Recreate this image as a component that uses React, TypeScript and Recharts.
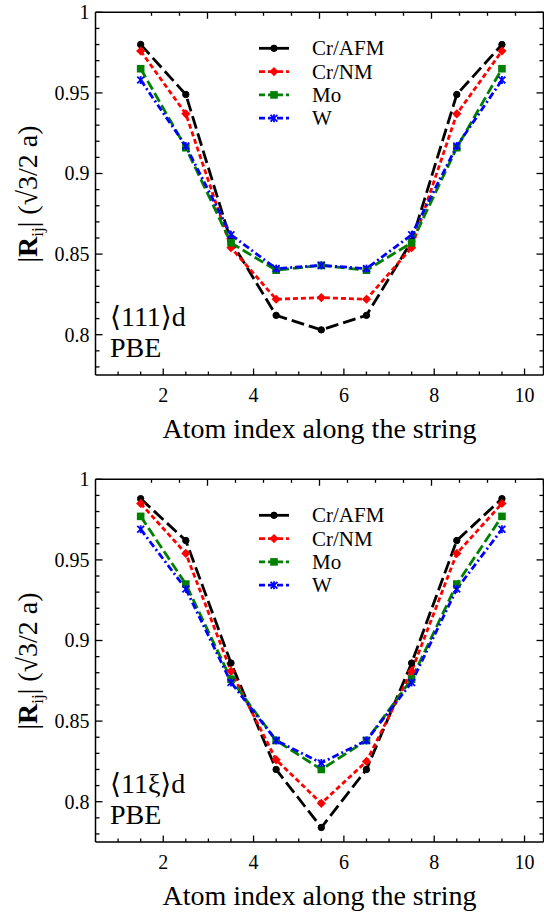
import React from 'react';
import { LineChart, Line, XAxis, YAxis, Legend } from 'recharts';

// ---------- data ----------
const atomIndex = [1.5, 2.5, 3.5, 4.5, 5.5, 6.5, 7.5, 8.5, 9.5];

// panel 1: <111>d
const p1CrAFM = [0.98, 0.949, 0.858, 0.812, 0.803, 0.812, 0.858, 0.949, 0.98];
const p1CrNM = [0.976, 0.937, 0.854, 0.822, 0.823, 0.822, 0.854, 0.937, 0.976];
const p1Mo = [0.965, 0.916, 0.857, 0.84, 0.843, 0.84, 0.857, 0.916, 0.965];
const p1W = [0.958, 0.917, 0.862, 0.841, 0.843, 0.841, 0.862, 0.917, 0.958];

// panel 2: <11xi>d
const p2CrAFM = [0.988, 0.962, 0.886, 0.82, 0.784, 0.82, 0.886, 0.962, 0.988];
const p2CrNM = [0.985, 0.954, 0.881, 0.826, 0.799, 0.825, 0.881, 0.954, 0.985];
const p2Mo = [0.977, 0.935, 0.876, 0.838, 0.82, 0.838, 0.876, 0.935, 0.977];
const p2W = [0.969, 0.932, 0.874, 0.838, 0.824, 0.838, 0.874, 0.932, 0.969];

const seriesNames = ['Cr/AFM', 'Cr/NM', 'Mo', 'W'];

const xTicks = [1, 1.5, 2, 2.5, 3, 3.5, 4, 4.5, 5, 5.5, 6, 6.5, 7, 7.5, 8, 8.5, 9, 9.5, 10];
const xMajorTicks = [2, 4, 6, 8, 10];
const xMajorLabels = ['2', '4', '6', '8', '10'];

const yTicks = [0.78, 0.79, 0.8, 0.81, 0.82, 0.83, 0.84, 0.85, 0.86, 0.87, 0.88, 0.89, 0.9, 0.91, 0.92, 0.93, 0.94, 0.95, 0.96, 0.97, 0.98, 0.99, 1];
const yMajorTicks = [0.8, 0.85, 0.9, 0.95, 1];
const yMajorLabels = ['0.8', '0.85', '0.9', '0.95', '1'];

const X_DOMAIN: [number, number] = [0.5, 10.42];
const Y_DOMAIN: [number, number] = [0.775, 1];

const xTitle = 'Atom index along the string';

// ---------- styles ----------
const FONT = 'Liberation Serif, Tinos, Times New Roman, DejaVu Serif, serif';
const TXT = { fontFamily: FONT } as React.CSSProperties;
const STYLES = [
  { key: 'CrAFM', color: '#000000', dash: '13 5', marker: 'circle' },
  { key: 'CrNM', color: '#ff0000', dash: '5 3', marker: 'diamond' },
  { key: 'Mo', color: '#008000', dash: '10 4', marker: 'square' },
  { key: 'W', color: '#0000ff', dash: '7 3 2 3', marker: 'star' },
];

const CHART_W = 560;
const CHART_H = 467;
const LEFT_W = 95.5;
const RIGHT_W = CHART_W - 543.5;
const TOP_H = 12.3;
const BOTTOM_H = CHART_H - 375;

const near = (a: number, b: number) => Math.abs(a - b) < 1e-6;
const idxIn = (arr: number[], v: number) => arr.findIndex((m) => near(m, v));

function Marker({ cx, cy, kind, color }: { cx: number; cy: number; kind: string; color: string }) {
  if (cx == null || cy == null) return null;
  if (kind === 'circle') return <circle cx={cx} cy={cy} r={3.2} fill={color} stroke={color} />;
  if (kind === 'diamond') {
    const s = 4.6;
    return <polygon points={`${cx},${cy - s} ${cx + s},${cy} ${cx},${cy + s} ${cx - s},${cy}`} fill={color} />;
  }
  if (kind === 'square') {
    const s = 3.8;
    return <rect x={cx - s} y={cy - s} width={2 * s} height={2 * s} fill={color} />;
  }
  const s = 3.4;
  return (
    <g stroke={color} strokeWidth={1.8}>
      <line x1={cx - s} y1={cy - s} x2={cx + s} y2={cy + s} />
      <line x1={cx - s} y1={cy + s} x2={cx + s} y2={cy - s} />
      <line x1={cx} y1={cy - s - 0.6} x2={cx} y2={cy + s + 0.6} />
    </g>
  );
}

const BottomTick = (props: any) => {
  const { x, y, payload } = props;
  const i = idxIn(xMajorTicks, payload.value);
  const major = i >= 0;
  return (
    <g>
      <line x1={x} x2={x} y1={y} y2={y - (major ? 6.5 : 3.5)} stroke="#000" strokeWidth={1.3} />
      {major && (
        <text x={x} y={y + 27} textAnchor="middle" fontSize={20} style={TXT} fill="#000">
          {xMajorLabels[i]}
        </text>
      )}
    </g>
  );
};

const TopTick = (props: any) => {
  const { x, y, payload } = props;
  const major = idxIn(xMajorTicks, payload.value) >= 0;
  return <line x1={x} x2={x} y1={y} y2={y + (major ? 6.5 : 3.5)} stroke="#000" strokeWidth={1.3} />;
};

const LeftTick = (props: any) => {
  const { x, y, payload } = props;
  const i = idxIn(yMajorTicks, payload.value);
  const major = i >= 0;
  return (
    <g>
      <line x1={x} x2={x + (major ? 7 : 4)} y1={y} y2={y} stroke="#000" strokeWidth={1.3} />
      {major && (
        <text x={x - 6} y={y + 6.8} textAnchor="end" fontSize={20} style={TXT} fill="#000">
          {yMajorLabels[i]}
        </text>
      )}
    </g>
  );
};

const RightTick = (props: any) => {
  const { x, y, payload } = props;
  const major = idxIn(yMajorTicks, payload.value) >= 0;
  return <line x1={x} x2={x - (major ? 7 : 4)} y1={y} y2={y} stroke="#000" strokeWidth={1.3} />;
};

const LegendBox = () => (
  <svg width={150} height={100} style={{ overflow: 'visible' }}>
    {STYLES.map((s, i) => {
      const cy = 12.3 + i * 23.3;
      return (
        <g key={s.key}>
          <line x1={0} x2={30} y1={cy} y2={cy} stroke={s.color} strokeWidth={2.8} strokeDasharray={i === 0 ? undefined : '6 3'} />
          <Marker cx={15} cy={cy} kind={s.marker} color={s.color} />
          <text x={53} y={cy + 7} fontSize={21} style={TXT} fill="#000">
            {seriesNames[i]}
          </text>
        </g>
      );
    })}
  </svg>
);

const YTitle = () => (
  <text transform="translate(36.5, 194) rotate(-90)" textAnchor="middle" fontSize={28} style={TXT} fill="#000">
    <tspan>|</tspan>
    <tspan fontWeight="bold">R</tspan>
    <tspan fontSize={17} dy={6}>ij</tspan>
    <tspan dy={-6}>| (√3/2 a)</tspan>
  </text>
);

const XTitle = (props: any) => {
  const vb = props.viewBox || {};
  const cx = (vb.x ?? LEFT_W) + (vb.width ?? 448) / 2;
  const y = (vb.y ?? 375) + 63;
  return (
    <text x={cx} y={y} textAnchor="middle" fontSize={28} style={TXT} fill="#000">
      {xTitle}
    </text>
  );
};

function Panel({ series, tag }: { series: number[][]; tag: string }) {
  const data = atomIndex.map((x, i) => ({
    x,
    CrAFM: series[0][i],
    CrNM: series[1][i],
    Mo: series[2][i],
    W: series[3][i],
  }));
  return (
    <div style={{ position: 'relative', width: CHART_W, height: CHART_H, fontFamily: FONT }}>
      <LineChart width={CHART_W} height={CHART_H} data={data} margin={{ top: 0, right: 0, bottom: 0, left: 0 }}>
        <XAxis
          dataKey="x"
          type="number"
          domain={X_DOMAIN}
          allowDataOverflow
          ticks={xTicks}
          interval={0}
          tickSize={0}
          tickMargin={0}
          tick={BottomTick}
          height={BOTTOM_H}
          axisLine={{ stroke: '#000', strokeWidth: 1.5 }}
          label={<XTitle />}
        />
        <XAxis
          xAxisId="top"
          orientation="top"
          type="number"
          domain={X_DOMAIN}
          allowDataOverflow
          ticks={xTicks}
          interval={0}
          tickSize={0}
          tickMargin={0}
          tick={TopTick}
          height={TOP_H}
          axisLine={{ stroke: '#000', strokeWidth: 1.5 }}
        />
        <YAxis
          type="number"
          domain={Y_DOMAIN}
          allowDataOverflow
          ticks={yTicks}
          interval={0}
          tickSize={0}
          tickMargin={0}
          tick={LeftTick}
          width={LEFT_W}
          axisLine={{ stroke: '#000', strokeWidth: 1.5 }}
          label={<YTitle />}
        />
        <YAxis
          yAxisId="right"
          orientation="right"
          type="number"
          domain={Y_DOMAIN}
          allowDataOverflow
          ticks={yTicks}
          interval={0}
          tickSize={0}
          tickMargin={0}
          tick={RightTick}
          width={RIGHT_W}
          axisLine={{ stroke: '#000', strokeWidth: 1.5 }}
        />
        <Legend
          layout="vertical"
          align="center"
          verticalAlign="middle"
          content={() => <LegendBox />}
          wrapperStyle={{ position: 'absolute', left: 259, top: 36, width: 150, height: 100 }}
        />
        {STYLES.map((s, i) => (
          <Line
            key={s.key}
            dataKey={s.key}
            name={seriesNames[i]}
            stroke={s.color}
            strokeWidth={2.8}
            strokeDasharray={s.dash}
            isAnimationActive={false}
            dot={(p: any) => <Marker key={`${s.key}-${p.index}`} cx={p.cx} cy={p.cy} kind={s.marker} color={s.color} />}
            activeDot={false}
          />
        ))}
      </LineChart>
      <svg width={CHART_W} height={CHART_H} style={{ position: 'absolute', left: 0, top: 0, pointerEvents: 'none' }}>
        <text x={110} y={326} fontSize={28} style={TXT} fill="#000">
          {tag}
        </text>
        <text x={110} y={357} fontSize={28} style={TXT} fill="#000">
          PBE
        </text>
      </svg>
    </div>
  );
}

export default function App() {
  return (
    <div style={{ position: 'fixed', left: 0, top: 0, width: 544, height: 913, overflow: 'hidden', background: '#fff', fontFamily: FONT }}>
      <div style={{ position: 'absolute', left: 0, top: 0 }}>
        <Panel series={[p1CrAFM, p1CrNM, p1Mo, p1W]} tag="⟨111⟩d" />
      </div>
      <div style={{ position: 'absolute', left: 0, top: 467 }}>
        <Panel series={[p2CrAFM, p2CrNM, p2Mo, p2W]} tag="⟨11ξ⟩d" />
      </div>
    </div>
  );
}
